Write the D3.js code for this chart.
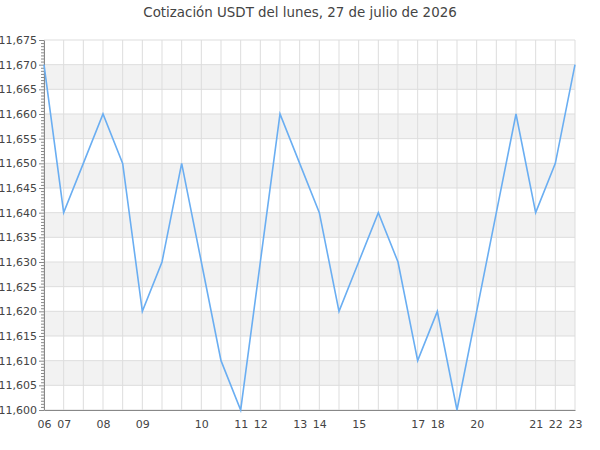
<!DOCTYPE html>
<html>
<head>
<meta charset="utf-8">
<script src="https://cdn.jsdelivr.net/npm/d3@7"></script>
<style>
  body { margin: 0; background: #fff; }
  #grafico { width: 600px; height: 450px; }
  text { font-family: "DejaVu Sans", sans-serif; fill: #444; }
</style>
</head>
<body>
<div id="grafico"></div>
<script>
// Datos
const titulo = "Cotización USDT del lunes, 27 de julio de 2026"
const horas = ["06","07","07","08","08","09","09","09","10","10","11","12","12","13",
               "14","14","15","15","15","17","18","18","20","20","20","21","22","23"]
const valores = [11.670, 11.640, 11.650, 11.660, 11.650, 11.620, 11.630, 11.650, 11.630, 11.610,
                 11.600, 11.630, 11.660, 11.650, 11.640, 11.620, 11.630, 11.640, 11.630, 11.610,
                 11.620, 11.600, 11.620, 11.640, 11.660, 11.640, 11.650, 11.670]
const yTicks = [11.600, 11.605, 11.610, 11.615, 11.620, 11.625, 11.630, 11.635,
                11.640, 11.645, 11.650, 11.655, 11.660, 11.665, 11.670, 11.675]

const draw = () => {
    const graf = d3.select("#grafico")

    // Dimensiones
    const margins = { top: 40, right: 25, bottom: 40, left: 44 }
    const anchoTotal = 600
    const altoTotal = 450
    const ancho = anchoTotal - margins.left - margins.right
    const alto = altoTotal - margins.top - margins.bottom

    const svg = graf.append("svg")
        .attr("width", anchoTotal)
        .attr("height", altoTotal)

    const g = svg.append("g")
        .attr("transform", `translate(${margins.left}, ${margins.top})`)

    // Escaladores
    const indices = d3.range(valores.length)
    const x = d3.scalePoint()
        .domain(indices)
        .range([0, ancho])

    const y = d3.scaleLinear()
        .domain([d3.min(yTicks), d3.max(yTicks)])
        .range([alto, 0])

    const es = d3.formatLocale({ decimal: ",", thousands: ".", grouping: [3], currency: ["", ""] })
    const fmt = es.format(".3f")

    // Bandas alternas
    const bandas = yTicks.slice(0, -1).filter((d, i) => i % 2 === 1)
    g.selectAll("rect.banda")
        .data(bandas)
        .enter()
        .append("rect")
        .attr("class", "banda")
        .attr("x", 0)
        .attr("width", ancho)
        .attr("y", d => y(d + 0.005))
        .attr("height", d => y(d) - y(d + 0.005))
        .attr("fill", "#f2f2f2")

    // Rejilla horizontal
    g.selectAll("line.hgrid")
        .data(yTicks)
        .enter()
        .append("line")
        .attr("class", "hgrid")
        .attr("x1", 0)
        .attr("x2", ancho)
        .attr("y1", d => y(d))
        .attr("y2", d => y(d))
        .attr("stroke", "#dddddd")

    // Rejilla vertical
    g.selectAll("line.vgrid")
        .data(indices)
        .enter()
        .append("line")
        .attr("class", "vgrid")
        .attr("x1", d => x(d))
        .attr("x2", d => x(d))
        .attr("y1", 0)
        .attr("y2", alto)
        .attr("stroke", "#dddddd")

    // Eje y con marcas menores
    const menores = d3.range(0, yTicks.length - 1).flatMap(i =>
        d3.range(1, 8).map(k => yTicks[i] + (yTicks[i + 1] - yTicks[i]) * k / 8))
    g.append("g")
        .call(d3.axisLeft(y).tickValues(menores).tickSize(3).tickFormat(""))
        .call(a => a.select(".domain").remove())
        .call(a => a.selectAll("line").attr("stroke", "#888"))

    const yAxis = g.append("g")
        .call(d3.axisLeft(y).tickValues(yTicks).tickFormat(fmt).tickSize(5).tickSizeOuter(0).tickPadding(2))
    yAxis.select(".domain").attr("stroke", "#888")
    yAxis.selectAll("line").attr("stroke", "#888")
    yAxis.selectAll("text").attr("font-size", 11).attr("fill", "#444")

    // Eje x
    const xAxis = g.append("g")
        .attr("transform", `translate(0,${alto})`)
        .call(d3.axisBottom(x)
            .tickSize(0)
            .tickPadding(10)
            .tickFormat(i => (i === 0 || horas[i] !== horas[i - 1]) ? horas[i] : ""))
    xAxis.select(".domain").attr("stroke", "#888")
    xAxis.selectAll("text").attr("font-size", 11).attr("fill", "#444")

    // Línea
    const linea = d3.line()
        .x((d, i) => x(i))
        .y(d => y(d))

    g.append("path")
        .datum(valores)
        .attr("d", linea)
        .attr("fill", "none")
        .attr("stroke", "#6aaef2")
        .attr("stroke-width", 1.6)

    // Título
    svg.append("text")
        .attr("x", anchoTotal / 2)
        .attr("y", 17)
        .attr("text-anchor", "middle")
        .attr("font-size", 13.4)
        .text(titulo)
}

draw()
</script>
</body>
</html>
